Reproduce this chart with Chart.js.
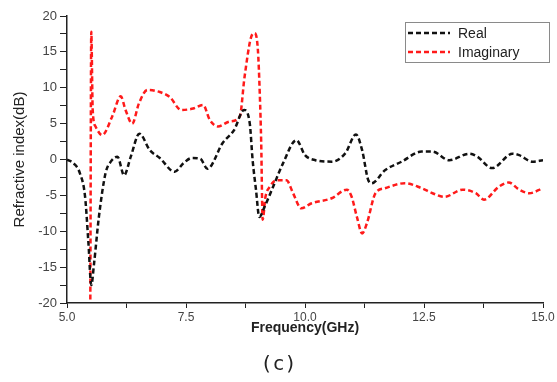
<!DOCTYPE html>
<html>
<head>
<meta charset="utf-8">
<script src="https://cdn.jsdelivr.net/npm/chart.js@4.4.1/dist/chart.umd.min.js"></script>
<style>
  html, body { margin: 0; padding: 0; background: #fff; }
  #wrap { position: relative; width: 557px; height: 382px; }
  #caption { position: absolute; left: 0; width: 557px; top: 351px; text-align: center;
    font-family: "DejaVu Sans Mono", monospace; font-size: 20px; color: #222; }
</style>
</head>
<body>
<div id="wrap">
  <canvas id="c" width="557" height="382"></canvas>
  <div id="caption">(c)</div>
</div>
<script>
const seriesNames = ["Real", "Imaginary"];
const realFreq = [5.0, 5.15, 5.27, 5.38, 5.45, 5.51, 5.57, 5.67, 5.81, 5.92, 6.06, 6.2, 6.34, 6.52, 6.74, 6.95, 7.26, 7.45, 7.62, 7.8, 7.95, 8.27, 8.51, 8.72, 8.84, 8.9, 8.97, 9.04, 9.15, 9.33, 9.54, 9.82, 10.0, 10.22, 10.57, 10.85, 11.07, 11.2, 11.33, 11.4, 11.68, 12.03, 12.45, 12.68, 13.03, 13.45, 13.62, 13.93, 14.36, 14.5, 14.78, 15.0];
const realVal  = [0.0, -0.6, -1.9, -5.2, -11.6, -17.5, -14.4, -8.0, -1.9, -0.3, 0.4, -2.2, 0.4, 3.6, 1.3, 0.2, -1.7, -0.5, 0.2, 0.1, -1.3, 2.3, 4.1, 6.9, 5.0, -0.1, -4.2, -8.0, -6.6, -3.8, -0.5, 2.7, 0.6, -0.1, -0.3, 0.9, 3.5, 1.3, -2.9, -3.3, -1.5, -0.3, 1.1, 1.1, -0.1, 0.8, 0.4, -1.2, 0.8, 0.6, -0.3, -0.1];
const imagFreq = [5.49, 5.51, 5.54, 5.6, 5.74, 5.95, 6.13, 6.23, 6.37, 6.51, 6.69, 6.95, 7.16, 7.4, 7.65, 7.86, 8.0, 8.17, 8.42, 8.63, 8.73, 8.87, 8.94, 9.01, 9.05, 9.08, 9.11, 9.17, 9.26, 9.4, 9.61, 9.75, 9.92, 10.14, 10.56, 10.88, 10.98, 11.09, 11.2, 11.3, 11.48, 11.68, 12.1, 12.45, 12.68, 12.93, 13.31, 13.59, 13.76, 14.07, 14.28, 14.5, 14.71, 15.0];
const imagVal  = [-19.5, 17.8, 6.9, 4.6, 3.4, 6.0, 8.8, 6.9, 5.0, 7.8, 9.7, 9.4, 8.7, 6.9, 7.1, 7.6, 5.5, 4.6, 5.3, 6.0, 11.5, 17.1, 17.6, 15.3, 9.2, 2.3, -8.4, -5.2, -3.8, -2.9, -2.9, -4.7, -6.8, -6.1, -5.4, -4.2, -5.2, -8.0, -10.3, -8.9, -4.7, -4.0, -3.3, -4.0, -4.7, -5.2, -4.2, -4.7, -5.6, -3.8, -3.2, -4.2, -4.7, -4.0];
const xTickLabels = ["5.0", "7.5", "10.0", "12.5", "15.0"];
const yTickLabels = ["-20", "-15", "-10", "-5", "0", "5", "10", "15", "20"];

const colors = ["#111111", "#ff1a1a"];
const toPts = (xs, ys) => xs.map((x, i) => ({x: x, y: ys[i]}));

const legendPlugin = {
  id: 'boxLegend',
  afterDraw(chart) {
    const ctx = chart.ctx;
    const x0 = 405, y0 = 22, w = 144, h = 40;
    ctx.save();
    ctx.fillStyle = '#fff';
    ctx.fillRect(x0, y0, w, h);
    ctx.strokeStyle = '#8a8a8a';
    ctx.lineWidth = 1;
    ctx.strokeRect(x0 + 0.5, y0 + 0.5, w, h);
    ctx.font = '14px "Liberation Sans", Arial, sans-serif';
    ctx.textBaseline = 'middle';
    chart.data.datasets.forEach((ds, i) => {
      const yy = y0 + 11 + i * 19;
      ctx.strokeStyle = ds.borderColor;
      ctx.lineWidth = 2.5;
      ctx.setLineDash([5, 3]);
      ctx.beginPath();
      ctx.moveTo(x0 + 3, yy);
      ctx.lineTo(x0 + 45, yy);
      ctx.stroke();
      ctx.setLineDash([]);
      ctx.fillStyle = '#222';
      ctx.fillText(ds.label, x0 + 53, yy + 1);
    });
    ctx.restore();
  }
};

new Chart(document.getElementById('c'), {
  type: 'line',
  data: {
    datasets: [
      { label: seriesNames[0], data: toPts(realFreq, realVal), borderColor: colors[0], borderWidth: 2.5,
        borderDash: [5, 3], pointRadius: 0, fill: false, cubicInterpolationMode: 'monotone' },
      { label: seriesNames[1], data: toPts(imagFreq, imagVal), borderColor: colors[1], borderWidth: 2.5,
        borderDash: [5, 3], pointRadius: 0, fill: false, cubicInterpolationMode: 'monotone' }
    ]
  },
  options: {
    responsive: false,
    devicePixelRatio: 1,
    animation: false,
    layout: { padding: { left: 0, right: 14, top: 16, bottom: 37 } },
    plugins: { legend: { display: false }, tooltip: { enabled: false } },
    scales: {
      x: {
        type: 'linear', min: 5, max: 15,
        afterFit: s => { s.height = 42; },
        ticks: {
          stepSize: 1.25, padding: 2, color: '#444', maxRotation: 0, autoSkip: false,
          font: { family: '"Liberation Sans", Arial, sans-serif', size: 12 },
          callback: v => { const i = Math.round((v - 5) / 2.5); return Math.abs(v - 5 - i * 2.5) < 1e-6 ? xTickLabels[i] : ''; }
        },
        grid: { display: true, drawOnChartArea: false, drawTicks: true, tickLength: 5, color: '#222' },
        border: { display: true, color: '#222', width: 1.5 },
        title: { display: true, text: 'Frequency(GHz)', color: '#222',
          font: { family: '"Liberation Sans", Arial, sans-serif', size: 14, weight: 'bold' },
          padding: { top: 0, bottom: 8 } }
      },
      y: {
        type: 'linear', min: -20, max: 20,
        afterFit: s => { s.width = 67; },
        ticks: {
          stepSize: 2.5, padding: 3, color: '#444', autoSkip: false,
          font: { family: '"Liberation Sans", Arial, sans-serif', size: 13 },
          callback: v => { const i = Math.round((v + 20) / 5); return Math.abs(v + 20 - i * 5) < 1e-6 ? yTickLabels[i] : ''; }
        },
        grid: { display: true, drawOnChartArea: false, drawTicks: true, tickLength: 7, color: '#222' },
        border: { display: true, color: '#222', width: 1.5 },
        title: { display: true, text: 'Refractive index(dB)', color: '#222',
          font: { family: '"Liberation Sans", Arial, sans-serif', size: 15 },
          padding: { top: 11, bottom: 0 } }
      }
    }
  },
  plugins: [legendPlugin]
});
</script>
</body>
</html>
